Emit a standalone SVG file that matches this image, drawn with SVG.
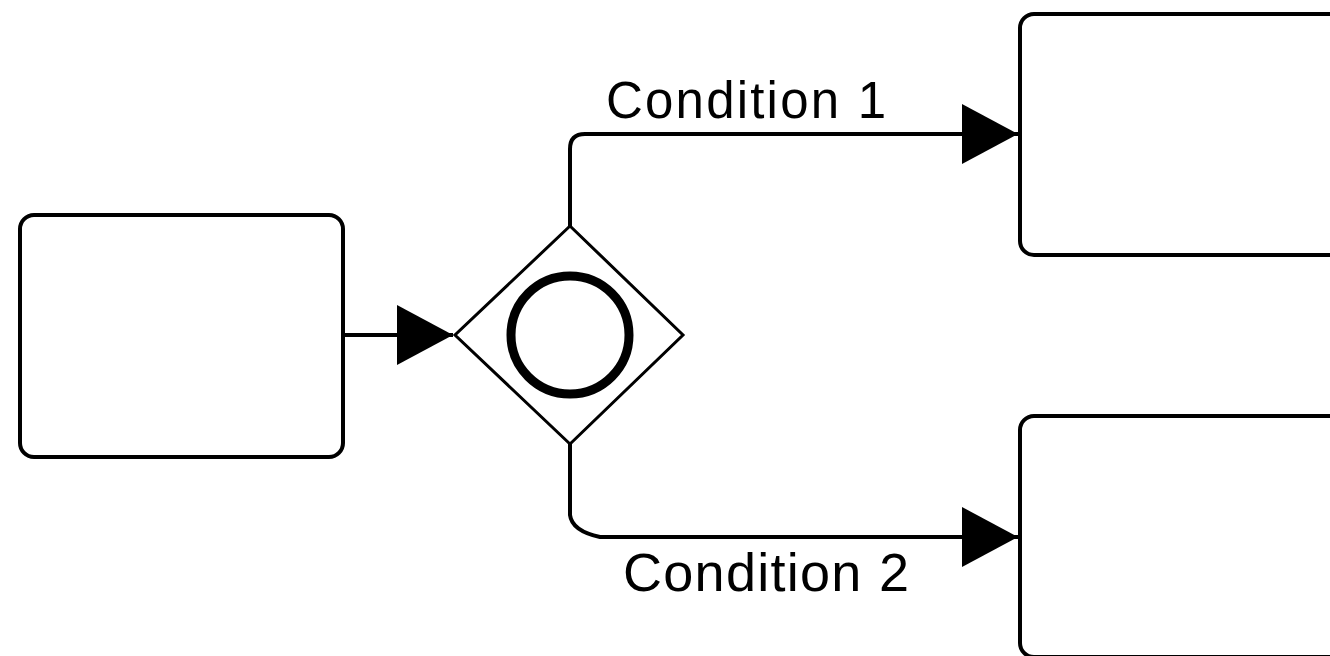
<svg xmlns="http://www.w3.org/2000/svg" width="1330" height="656" viewBox="0 0 1330 656">
  <style>
    .task { fill: #fff; stroke: #000; stroke-width: 4; }
    .gw { fill: #fff; stroke: #000; stroke-width: 3; }
    .ev { fill: none; stroke: #000; stroke-width: 9; }
    .flow { fill: none; stroke: #000; stroke-width: 4; }
    .lbl { font-family: "Liberation Sans", Arial, sans-serif; fill: #000; }
  </style>
  <defs>
    <marker id="arr" markerUnits="userSpaceOnUse" markerWidth="60" markerHeight="62" refX="56" refY="30" orient="auto" viewBox="0 0 60 62">
      <path d="M0,0 L56,30 L0,60 Z" fill="#000"/>
    </marker>
  </defs>
  <rect width="1330" height="656" fill="#fff"/>
  <g id="task-start">
    <rect class="task" x="20" y="215" width="323" height="242" rx="14" ry="14"/>
  </g>
  <g id="gateway">
    <polygon class="gw" points="570,226 683,335 570,444 455,335"/>
    <circle class="ev" cx="570" cy="335" r="59"/>
  </g>
  <g id="task-1">
    <rect class="task" x="1020" y="14" width="323" height="241" rx="14" ry="14"/>
  </g>
  <g id="task-2">
    <rect class="task" x="1020" y="416" width="323" height="241" rx="14" ry="14"/>
  </g>
  <g id="connectors">
    <path class="flow" d="M343,335 L453,335" marker-end="url(#arr)"/>
    <path class="flow" d="M570,226 L570,149 Q570,134 585,134 L1018,134" marker-end="url(#arr)"/>
    <path class="flow" d="M570,444 L570,515 Q572,531 600,537 L1018,537" marker-end="url(#arr)"/>
  </g>
  <g id="labels">
    <text class="lbl" x="606" y="118" font-size="51" textLength="280" lengthAdjust="spacing">Condition 1</text>
    <text class="lbl" x="623" y="591" font-size="54" textLength="286" lengthAdjust="spacing">Condition 2</text>
  </g>
</svg>
